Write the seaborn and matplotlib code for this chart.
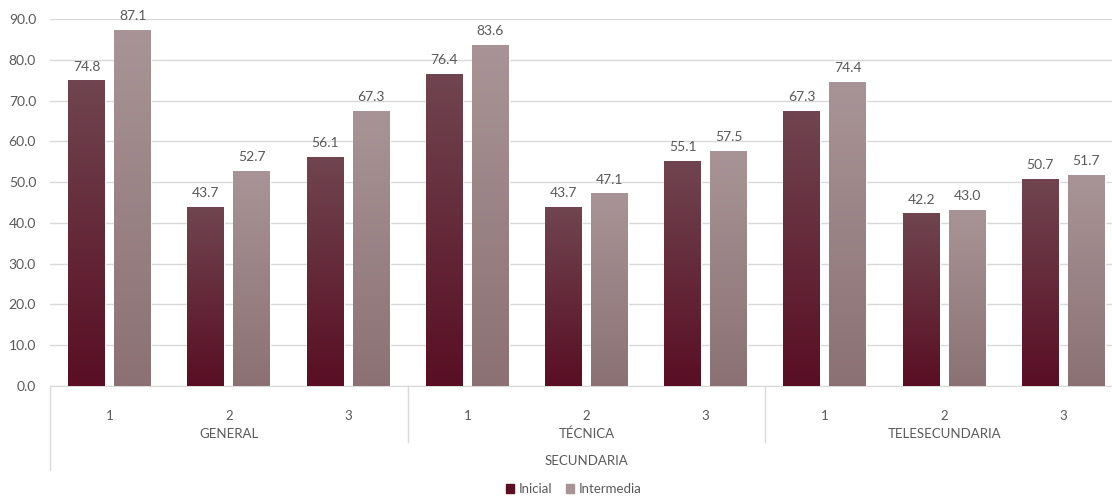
import numpy as np
import pandas as pd
import matplotlib
matplotlib.use("Agg")
import matplotlib.pyplot as plt
import seaborn as sns
from matplotlib.colors import LinearSegmentedColormap
from matplotlib.patches import Patch
from matplotlib.lines import Line2D

# datos
grados = ["1", "2", "3", "1", "2", "3", "1", "2", "3"]
modalidades = ["GENERAL", "TÉCNICA", "TELESECUNDARIA"]
nivel = "SECUNDARIA"
inicial = [74.8, 43.7, 56.1, 76.4, 43.7, 55.1, 67.3, 42.2, 50.7]
intermedia = [87.1, 52.7, 67.3, 83.6, 47.1, 57.5, 74.4, 43.0, 51.7]

pos = list(range(len(grados)))
df = pd.DataFrame({
    "pos": pos * 2,
    "valor": inicial + intermedia,
    "serie": ["Inicial"] * len(inicial) + ["Intermedia"] * len(intermedia),
})

sns.set_style("white")
plt.rcParams["font.family"] = ["Lato", "DejaVu Sans"]
txt = "#595959"
grid_c = "#d9d9d9"

# colores (arriba, abajo) de cada degradado
grad_cols = {
    "Inicial": ("#704550", "#590e24"),
    "Intermedia": ("#a89496", "#8b7174"),
}

fig = plt.figure(figsize=(11.12, 5.01), dpi=100)
# el area de trazado sigue un poco mas alla del borde derecho, como en el original
ax = fig.add_axes([50 / 1112, 1 - 386 / 501, 1073 / 1112, 367 / 501])

sns.barplot(data=df, x="pos", y="valor", hue="serie", order=pos,
            palette=[grad_cols["Inicial"][1], grad_cols["Intermedia"][1]],
            width=0.772, dodge=True, legend=False, ax=ax, zorder=2)

# barras mas angostas con separacion y degradado vertical
for cont, serie in zip(ax.containers, ["Inicial", "Intermedia"]):
    cmap = LinearSegmentedColormap.from_list(serie, [grad_cols[serie][1], grad_cols[serie][0]])
    for p in cont:
        cx = p.get_x() + p.get_width() / 2
        w = 0.31
        p.set_x(cx - w / 2)
        p.set_width(w)
        h = p.get_height()
        g = np.linspace(0, 1, 256).reshape(-1, 1)
        ax.imshow(g, extent=[cx - w / 2, cx + w / 2, 0, h], origin="lower",
                  aspect="auto", cmap=cmap, zorder=3)
    ax.bar_label(cont, fmt="%.1f", padding=6, color=txt, fontsize=10, zorder=4)

ax.set_xlim(-0.5, 8.5)
ax.set_ylim(0, 90)
ax.set_yticks(np.arange(0, 91, 10))
ax.set_yticklabels([f"{v:.1f}" for v in np.arange(0, 91, 10)], color=txt, fontsize=10)
ax.yaxis.grid(True, color=grid_c, linewidth=1, zorder=0)
ax.set_axisbelow(True)
ax.tick_params(axis="y", length=0, pad=10)
ax.set_xticks([])
ax.set_xlabel("")
ax.set_ylabel("")
for s in ["top", "right", "left"]:
    ax.spines[s].set_visible(False)
ax.spines["bottom"].set_color(grid_c)

# etiquetas de eje en varios niveles
tr = ax.get_xaxis_transform()
for i, g in enumerate(grados):
    ax.text(i, -0.082, g, transform=tr, ha="center", va="center", color=txt, fontsize=9.5)
for j, m in enumerate(modalidades):
    ax.text(3 * j + 1, -0.131, m, transform=tr, ha="center", va="center", color=txt, fontsize=9.5)
ax.text(4, -0.204, nivel, transform=tr, ha="center", va="center", color=txt, fontsize=9.5)

for xb in [2.5, 5.5]:
    ax.add_line(Line2D([xb, xb], [0, -0.153], transform=tr, color=grid_c, lw=1, clip_on=False))
ax.add_line(Line2D([-0.5, -0.5], [0, -0.229], transform=tr, color=grid_c, lw=1, clip_on=False))

handles = [Patch(color=grad_cols["Inicial"][1], label="Inicial"),
           Patch(color=grad_cols["Intermedia"][0], label="Intermedia")]
leg = fig.legend(handles=handles, loc="lower center", ncol=2, frameon=False,
                 bbox_to_anchor=(0.516, -0.012), fontsize=9.5, handlelength=0.6,
                 handleheight=0.6, handletextpad=0.4, columnspacing=1.0)
for t in leg.get_texts():
    t.set_color(txt)

fig.savefig("out.png", dpi=100)
